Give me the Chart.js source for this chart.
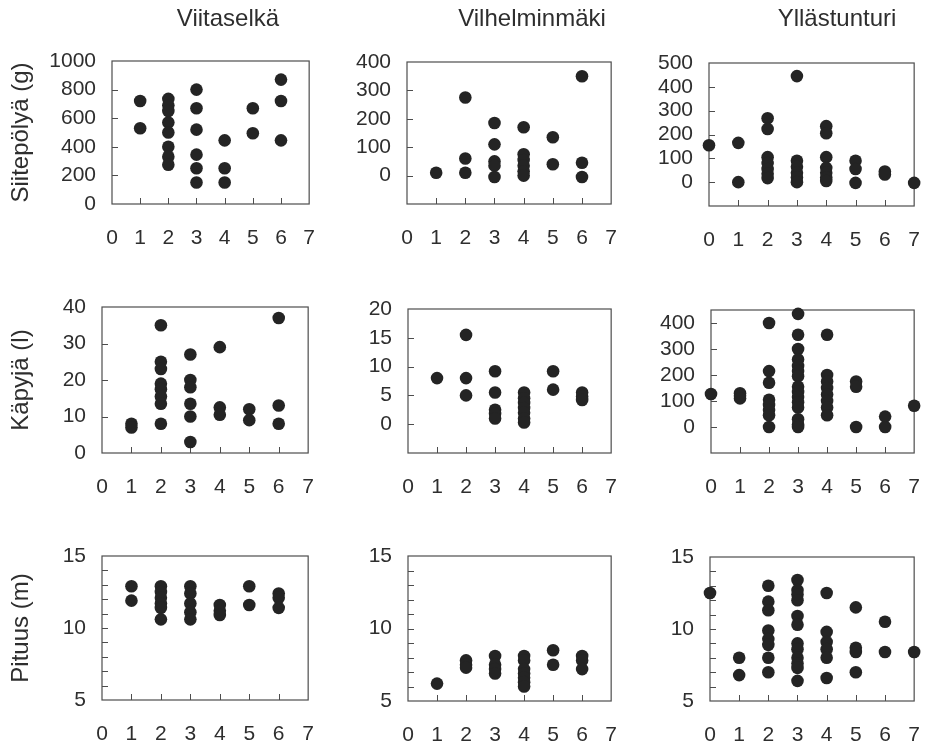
<!DOCTYPE html>
<html>
<head>
<meta charset="utf-8">
<script src="https://cdn.jsdelivr.net/npm/chart.js@4.4.0/dist/chart.umd.min.js"></script>
<style>
  body { margin: 0; background: #fff; }
  #wrap { position: relative; width: 942px; height: 746px; overflow: hidden; }
  #wrap canvas { position: absolute; }
</style>
</head>
<body>
<div id="wrap"></div>
<script>
// x categories (shared by every panel) and the panel headings
const classes = [0, 1, 2, 3, 4, 5, 6, 7];
const sites = ["Viitaselkä", "Vilhelminmäki", "Yllästunturi"];
const measures = ["Siitepölyä (g)", "Käpyjä (l)", "Pituus (m)"];

// values per class, index = class 0..7
const viitaPollen = [[], [720, 530], [735, 690, 650, 570, 500, 400, 330, 275], [800, 670, 520, 345, 250, 150], [445, 250, 150], [670, 495], [870, 720, 445], []];
const vilhPollen  = [[], [10], [275, 60, 10], [185, 110, 50, 35, -5], [170, 75, 55, 35, 15, 0], [135, 40], [350, 45, -5], []];
const yllPollen   = [[155], [165, 0], [268, 223, 105, 80, 55, 35, 17], [445, 90, 65, 40, 20, 0], [235, 205, 105, 60, 40, 20, 5], [90, 55, -3], [45, 32], [-3]];

const viitaCones = [[], [8, 7], [35, 25, 23, 19, 17.5, 15.5, 13.5, 8], [27, 20, 18, 13.5, 10, 3], [29, 12.5, 10.5], [12, 9], [37, 13, 8], []];
const vilhCones  = [[], [8], [15.5, 8, 5], [9.2, 5.5, 2.5, 1.8, 1], [5.5, 4.5, 3.7, 2.8, 2, 1, 0.3], [9.2, 6], [5.5, 4.8, 4.2], []];
const yllCones   = [[127], [130, 120, 110], [400, 215, 170, 105, 85, 65, 45, 0], [435, 355, 300, 260, 235, 215, 195, 155, 135, 115, 95, 75, 30, 10, 0], [355, 200, 175, 150, 125, 100, 75, 45], [175, 155, 0], [40, 0], [82]];

const viitaHeight = [[], [12.9, 11.9], [12.9, 12.5, 12.1, 11.7, 11.4, 10.6], [12.9, 12.4, 11.7, 11.1, 10.6], [11.6, 11.2, 10.9], [12.9, 11.6], [12.4, 12.1, 11.4], []];
const vilhHeight  = [[], [6.2], [7.8, 7.5, 7.3], [8.1, 7.5, 7.2, 6.9], [8.1, 7.8, 7.2, 6.9, 6.6, 6.3, 6.0], [8.5, 7.5], [8.1, 7.8, 7.2], []];
const yllHeight   = [[12.5], [8.0, 6.8], [13.0, 11.9, 11.3, 9.9, 9.3, 8.9, 8.0, 7.0], [13.4, 12.7, 12.4, 12.0, 10.9, 10.3, 9.0, 8.6, 8.0, 7.6, 7.3, 6.4], [12.5, 9.8, 9.1, 8.6, 8.0, 6.6], [11.5, 8.7, 8.4, 7.0], [10.5, 8.4], [8.4]];

// y axis ticks and ranges per panel
const pollenTicks = [[0, 200, 400, 600, 800, 1000], [0, 100, 200, 300, 400], [0, 100, 200, 300, 400, 500]];
const pollenRange = [[0, 1000], [-100, 400], [-100, 500]];
const coneTicks = [[0, 10, 20, 30, 40], [0, 5, 10, 15, 20], [0, 100, 200, 300, 400]];
const coneRange = [[0, 40], [-5, 20], [-100, 450]];
const heightTicks = [5, 6, 7, 8, 9, 10, 11, 12, 13, 14, 15];
const heightLabels = [5, 10, 15];
const heightRange = [5, 15];

const panelValues = [
    [viitaPollen, vilhPollen, yllPollen],
    [viitaCones, vilhCones, yllCones],
    [viitaHeight, vilhHeight, yllHeight]
];

/* --------------------------------------------------
   LAYOUT (plot frames in page pixels)
-------------------------------------------------- */
const frames = [
    [112, 61, 327, 204], [407, 62, 629, 204], [709, 63, 934, 206],
    [102, 307, 326, 453], [408, 309, 629, 453], [711, 310, 934, 453],
    [102, 556, 326, 700], [408, 556, 629, 701], [710, 557, 934, 701]
];
const titleCenters = [228, 532, 837];
const FONT = '"Liberation Sans", Arial, Helvetica, sans-serif';
const TEXT = "#2e2e2e";
const DOT = "#242424";
const LINE = "#4d4d4d";

// frame box, inward tick marks and column heading
const framePlugin = {
    id: "frame",
    beforeDatasetsDraw(chart) {
        const { ctx, chartArea: a, scales: { x, y } } = chart;
        ctx.save();
        ctx.strokeStyle = LINE;
        ctx.lineWidth = 1.2;
        ctx.strokeRect(a.left, a.top, a.right - a.left, a.bottom - a.top);
        ctx.beginPath();
        x.ticks.forEach(t => {
            if (t.value <= x.min || t.value >= x.max) return;
            const p = Math.round(x.getPixelForValue(t.value)) + 0.5;
            ctx.moveTo(p, a.bottom);
            ctx.lineTo(p, a.bottom - 6);
        });
        y.ticks.forEach(t => {
            if (t.value <= y.min || t.value >= y.max) return;
            const p = Math.round(y.getPixelForValue(t.value)) + 0.5;
            ctx.moveTo(a.left, p);
            ctx.lineTo(a.left + 6, p);
        });
        ctx.lineWidth = 1;
        ctx.stroke();
        ctx.restore();
    },
    afterDraw(chart, args, opts) {
        if (!opts.title) return;
        const ctx = chart.ctx;
        ctx.save();
        ctx.font = "24px " + FONT;
        ctx.fillStyle = TEXT;
        ctx.textAlign = "center";
        ctx.textBaseline = "middle";
        ctx.fillText(opts.title, opts.cx, 19);
        ctx.restore();
    }
};

function toPoints(groups) {
    const pts = [];
    groups.forEach((vals, i) => {
        vals.forEach(v => pts.push({ x: classes[i], y: v }));
    });
    return pts;
}

function yAxisFor(row, col) {
    if (row === 0) return { ticks: pollenTicks[col], labels: pollenTicks[col], range: pollenRange[col] };
    if (row === 1) return { ticks: coneTicks[col], labels: coneTicks[col], range: coneRange[col] };
    return { ticks: heightTicks, labels: heightLabels, range: heightRange };
}

function makePanel(row, col) {
    const [L, T, R, B] = frames[row * 3 + col];
    const cLeft = col === 0 ? 0 : L - 70;
    const cRight = col === 2 ? 942 : R + 10;
    const cTop = row === 0 ? 0 : T - 45;
    const cBottom = B + 45;

    const canvas = document.createElement("canvas");
    canvas.width = cRight - cLeft;
    canvas.height = cBottom - cTop;
    canvas.style.left = cLeft + "px";
    canvas.style.top = cTop + "px";
    document.getElementById("wrap").appendChild(canvas);

    const yw = L - cLeft;
    const xh = cBottom - B;
    const ya = yAxisFor(row, col);
    const tickFont = { family: FONT, size: 21 };

    new Chart(canvas, {
        type: "scatter",
        data: {
            datasets: [{
                data: toPoints(panelValues[row][col]),
                backgroundColor: DOT,
                pointRadius: 6.3,
                pointHoverRadius: 6.3,
                borderWidth: 0,
                clip: false
            }]
        },
        options: {
            responsive: false,
            animation: false,
            events: [],
            layout: { padding: { top: T - cTop, right: cRight - R, left: 0, bottom: 0 } },
            plugins: {
                legend: { display: false },
                tooltip: { enabled: false },
                frame: { title: row === 0 ? sites[col] : "", cx: titleCenters[col] - cLeft }
            },
            scales: {
                x: {
                    type: "linear",
                    min: classes[0],
                    max: classes[classes.length - 1],
                    afterBuildTicks: s => { s.ticks = classes.map(v => ({ value: v })); },
                    afterFit: s => { s.height = xh; },
                    grid: { display: false, drawTicks: false },
                    border: { display: false },
                    ticks: { padding: 22, color: TEXT, font: tickFont, autoSkip: false, maxRotation: 0 }
                },
                y: {
                    type: "linear",
                    min: ya.range[0],
                    max: ya.range[1],
                    afterBuildTicks: s => { s.ticks = ya.ticks.map(v => ({ value: v })); },
                    afterFit: s => { s.width = yw; },
                    grid: { display: false, drawTicks: false },
                    border: { display: false },
                    ticks: {
                        padding: 16,
                        color: TEXT,
                        font: tickFont,
                        autoSkip: false,
                        callback: v => ya.labels.includes(v) ? String(v) : ""
                    },
                    title: {
                        display: col === 0,
                        text: measures[row],
                        color: TEXT,
                        font: { family: FONT, size: 24 },
                        padding: { top: 7, bottom: 0 }
                    }
                }
            }
        },
        plugins: [framePlugin]
    });
}

for (let r = 0; r < 3; r++) {
    for (let c = 0; c < 3; c++) {
        makePanel(r, c);
    }
}
</script>
</body>
</html>
